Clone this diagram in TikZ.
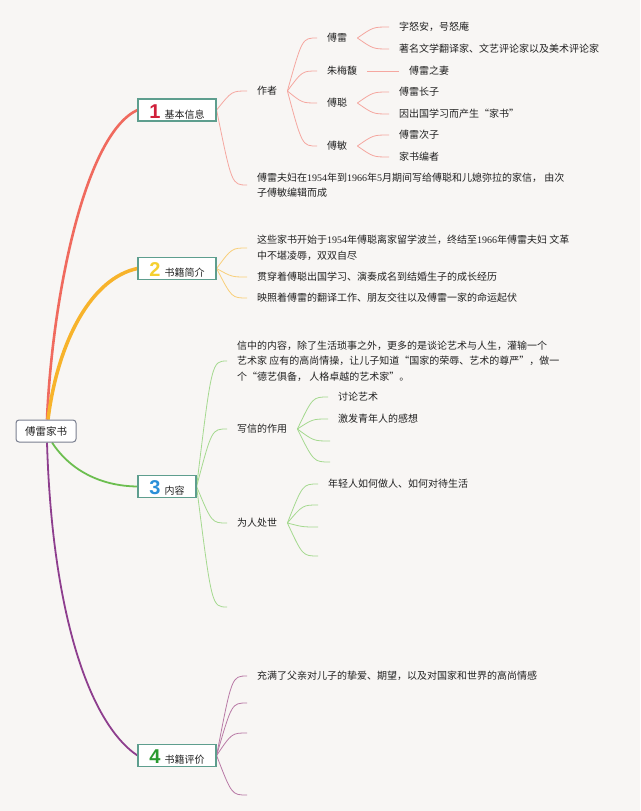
\documentclass[tikz,border=0pt]{standalone}
\usepackage{fontspec}
\setmainfont{Noto Sans CJK SC}
\newfontfamily\dg{Liberation Serif}
\newfontfamily\numf{Liberation Sans}
\usetikzlibrary{calc}
\definecolor{bgc}{HTML}{F8F6F4}
\definecolor{txt}{HTML}{222222}
\definecolor{boxc}{HTML}{5E9E8E}
\definecolor{rootc}{HTML}{7A7F8F}
\definecolor{ca}{HTML}{F06A5E}
\definecolor{cb}{HTML}{F7B32B}
\definecolor{cc}{HTML}{6CBE4F}
\definecolor{cd}{HTML}{8E3E8E}
\definecolor{ta}{HTML}{F5A7A0}
\definecolor{tb}{HTML}{F8CF7A}
\definecolor{tc}{HTML}{A5D98F}
\definecolor{td}{HTML}{B97AA6}
\definecolor{na}{HTML}{D0203A}
\definecolor{nb}{HTML}{F5D030}
\definecolor{nc}{HTML}{2A8FD8}
\definecolor{nd}{HTML}{2A9A30}
\pgfdeclarelayer{bglayer}
\pgfdeclarelayer{lines}
\pgfsetlayers{bglayer,lines,main}
\newcommand{\bnum}[2]{{\numf\bfseries\fontsize{20}{20}\selectfont\color{#1}#2}\hspace{4pt}}
\begin{document}
\begin{tikzpicture}[x=1pt,y=-1pt,
  lbl/.style={anchor=west, inner xsep=10pt, inner ysep=1pt, text=txt,
    font=\fontsize{10}{15.5}\selectfont, align=left},
  box/.style={draw=boxc, line width=1.2pt, fill=white, minimum height=22pt,
    inner xsep=2pt, inner ysep=2pt, text height=17pt, text depth=1pt,
    text=txt, font=\fontsize{10}{12}\selectfont},
  rootbox/.style={draw=rootc, line width=1pt, fill=white, rounded corners=3pt,
    minimum width=60pt, minimum height=22pt, text=txt,
    font=\fontsize{10.5}{12}\selectfont},
  mm/.style={to path={let \p1=(\tikztostart), \p2=(\tikztotarget) in
    .. controls ({0.5*\x1+0.5*\x2},\y2) .. (\tikztotarget)}},
  thin/.style={line width=0.8pt}
]
\begin{pgfonlayer}{bglayer}
\fill[bgc] (0,0) rectangle (640,811);
\end{pgfonlayer}
\useasboundingbox (0,0) rectangle (640,811);

% root and main boxes
\node[rootbox] (root) at (46,431) {傅雷家书};
\node[box, minimum width=78pt] (b1) at (177,110) {\bnum{na}{1}基本信息};
\node[box, minimum width=78pt] (b2) at (177,268.5) {\bnum{nb}{2}书籍简介};
\node[box, minimum width=58pt] (b3) at (167,486.5) {\bnum{nc}{3}内容};
\node[box, minimum width=78pt] (b4) at (177,755.5) {\bnum{nd}{4}书籍评价};

% branch 1
\node[lbl] (zz) at (247,91) {作者};
\node[lbl] (fl) at (317,38) {傅雷};
\node[lbl] (zmf) at (317,71) {朱梅馥};
\node[lbl] (fc) at (317,103) {傅聪};
\node[lbl] (fm) at (317,146) {傅敏};
\node[lbl] (fl1) at (389,27) {字怒安，号怒庵};
\node[lbl] (fl2) at (389,49) {著名文学翻译家、文艺评论家以及美术评论家};
\node[lbl] (zmf1) at (399,71) {傅雷之妻};
\node[lbl] (fc1) at (389,92) {傅雷长子};
\node[lbl] (fc2) at (389,114) {因出国学习而产生“家书”};
\node[lbl] (fm1) at (389,135) {傅雷次子};
\node[lbl] (fm2) at (389,157) {家书编者};
\node[lbl] (jx) at (247,185) {傅雷夫妇在{\dg 1954}年到{\dg 1966}年{\dg 5}月期间写给傅聪和儿媳弥拉的家信， 由次\\子傅敏编辑而成};

% branch 2
\node[lbl] (j1) at (247,248) {这些家书开始于{\dg 1954}年傅聪离家留学波兰，终结至{\dg 1966}年傅雷夫妇 文革\\中不堪凌辱，双双自尽};
\node[lbl] (j2) at (247,277) {贯穿着傅聪出国学习、演奏成名到结婚生子的成长经历};
\node[lbl] (j3) at (247,298) {映照着傅雷的翻译工作、朋友交往以及傅雷一家的命运起伏};

% branch 3
\node[lbl] (n1) at (227,361) {信中的内容，除了生活琐事之外，更多的是谈论艺术与人生，灌输一个\\艺术家 应有的高尚情操，让儿子知道“国家的荣辱、艺术的尊严”，做一\\个“德艺俱备， 人格卓越的艺术家”。};
\node[lbl] (n2) at (227,429) {写信的作用};
\node[lbl] (n3) at (227,523) {为人处世};
\coordinate (e3) at (227,607);
\node[lbl] (n21) at (328,397) {讨论艺术};
\node[lbl] (n22) at (328,419) {激发青年人的感想};
\coordinate (e23) at (330,441);
\coordinate (e24) at (330,462);
\node[lbl] (n31) at (318,484) {年轻人如何做人、如何对待生活};
\coordinate (e32) at (318,505);
\coordinate (e33) at (318,527);
\coordinate (e34) at (318,556);

% branch 4
\node[lbl] (p1) at (247,676) {充满了父亲对儿子的挚爱、期望，以及对国家和世界的高尚情感};
\coordinate (e42) at (247,703);
\coordinate (e43) at (247,733);
\coordinate (e44) at (247,795);

\begin{pgfonlayer}{lines}
% main branches
\draw[line width=2.6pt, ca] ([xshift=1pt]root.north) .. controls (52,300) and (84,135) .. (b1.west);
\draw[line width=3.5pt, cb] ([xshift=2pt]root.north) .. controls (58,340) and (92,278) .. (b2.west);
\draw[line width=1.8pt, cc] ([xshift=6pt]root.south) .. controls (70,470) and (100,486) .. (b3.west);
\draw[line width=1.8pt, cd] ([xshift=1pt]root.south) .. controls (52,610) and (88,722) .. (b4.west);

% branch 1 connectors
\draw[thin, ta] (b1.east) to[mm] (zz.west);
\draw[thin, ta] (b1.east) to[mm] (jx.west);
\draw[thin, ta] (zz.east) to[mm] (fl.west);
\draw[thin, ta] (zz.east) to[mm] (zmf.west);
\draw[thin, ta] (zz.east) to[mm] (fc.west);
\draw[thin, ta] (zz.east) to[mm] (fm.west);
\draw[thin, ta] (fl.east) to[mm] (fl1.west);
\draw[thin, ta] (fl.east) to[mm] (fl2.west);
\draw[thin, ta] (zmf.east) -- (zmf1.west);
\draw[thin, ta] (fc.east) to[mm] (fc1.west);
\draw[thin, ta] (fc.east) to[mm] (fc2.west);
\draw[thin, ta] (fm.east) to[mm] (fm1.west);
\draw[thin, ta] (fm.east) to[mm] (fm2.west);

% branch 2 connectors
\draw[thin, tb] (b2.east) to[mm] (j1.west);
\draw[thin, tb] (b2.east) to[mm] (j2.west);
\draw[thin, tb] (b2.east) to[mm] (j3.west);

% branch 3 connectors
\draw[thin, tc] (b3.east) to[mm] (n1.west);
\draw[thin, tc] (b3.east) to[mm] (n2.west);
\draw[thin, tc] (b3.east) to[mm] (n3.west);
\draw[thin, tc] (b3.east) to[mm] (e3);
\draw[thin, tc] (n2.east) to[mm] (n21.west);
\draw[thin, tc] (n2.east) to[mm] (n22.west);
\draw[thin, tc] (n2.east) to[mm] (e23);
\draw[thin, tc] (n2.east) to[mm] (e24);
\draw[thin, tc] (n3.east) to[mm] (n31.west);
\draw[thin, tc] (n3.east) to[mm] (e32);
\draw[thin, tc] (n3.east) to[mm] (e33);
\draw[thin, tc] (n3.east) to[mm] (e34);

% branch 4 connectors
\draw[thin, td] (b4.east) to[mm] (p1.west);
\draw[thin, td] (b4.east) to[mm] (e42);
\draw[thin, td] (b4.east) to[mm] (e43);
\draw[thin, td] (b4.east) to[mm] (e44);
\end{pgfonlayer}
\end{tikzpicture}
\end{document}
